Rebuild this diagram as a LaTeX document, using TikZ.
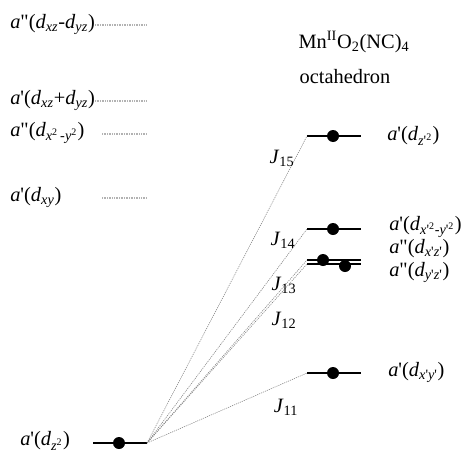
\documentclass[tikz,border=0pt]{standalone}
\usepackage{fontspec}
\setmainfont{Liberation Serif}
\usetikzlibrary{positioning}
\newcommand{\orb}[2]{\textit{a}#1(#2)}
\newcommand{\dd}[1]{\textit{d}\textsubscript{#1}}
\newcommand{\sq}{\textsuperscript{2}}
\newcommand{\pa}{\textquotesingle}
\newcommand{\pb}{\textquotedbl}

\begin{document}
\begin{tikzpicture}[x=0.025cm, y=-0.025cm,
    lbl/.style={font=\fontsize{14.5}{16}\selectfont, inner sep=0pt, anchor=west},
    jlbl/.style={font=\fontsize{14.5}{16}\selectfont, inner sep=0pt},
    lvl/.style={line width=1.4pt},
    elec/.style={circle, fill=black, inner sep=0pt, minimum size=12*0.025cm},
    free/.style={gray!60, line width=1.6pt, dash pattern=on 0.7pt off 0.5pt},
    ex/.style={gray, line width=0.4pt, dash pattern=on 0.8pt off 0.7pt}
]
\useasboundingbox (0,0) rectangle (464,453);

% free ion levels
\node[lbl] (f4) at (10,24) {\orb{\pb}{\dd{\textit{xz}}-\dd{\textit{yz}}}};
\node[lbl] (f3) at (10,100) {\orb{\pa}{\dd{\textit{xz}}+\dd{\textit{yz}}}};
\node[lbl] (f2) at (10,133) {\orb{\pb}{\dd{\textit{x}\sq\,-\textit{y}\sq}}};
\node[lbl] (f1) at (10,197) {\orb{\pa}{\dd{\textit{xy}}}};
\draw[free] (95,25) coordinate (f4a) -- (147,25) coordinate (f4b);
\draw[free] (95,101) coordinate (f3a) -- (147,101) coordinate (f3b);
\draw[free] (102,134) coordinate (f2a) -- (147,134) coordinate (f2b);
\draw[free] (102,198) coordinate (f1a) -- (147,198) coordinate (f1b);

% title
\node[jlbl] (ttl) at (354,42) {Mn\textsuperscript{II}O\textsubscript{2}(NC)\textsubscript{4}};
\node[jlbl, below=16*0.025cm of ttl, xshift=-9*0.025cm] (oct) {octahedron};

% ground level
\node[lbl] (g) at (20,441) {\orb{\pa}{\dd{\textit{z}\sq}}};
\draw[lvl] (93,443) coordinate (ga) -- (147,443) coordinate (gb);
\node[elec] (ge) at (119,443) {};

% octahedron levels
\draw[lvl] (307,136) coordinate (e5a) -- (361,136) coordinate (e5b);
\draw[lvl] (307,229) coordinate (e4a) -- (361,229) coordinate (e4b);
\draw[lvl] (307,260) coordinate (e3a) -- (361,260) coordinate (e3b);
\draw[lvl] (307,264) coordinate (e2a) -- (361,264) coordinate (e2b);
\draw[lvl] (307,373) coordinate (e1a) -- (361,373) coordinate (e1b);
\node[elec] (d5) at (333,136) {};
\node[elec] (d4) at (333,229) {};
\node[elec] (d3) at (323,260) {};
\node[elec] (d2) at (345,266) {};
\node[elec] (d1) at (333,373) {};
\node[lbl] (o5) at (387,136) {\orb{\pa}{\dd{\textit{z}\pa\sq}}};
\node[lbl] (o4) at (389,227) {\orb{\pa}{\dd{\textit{x}\pa\sq-\textit{y}\pa\sq}}};
\node[lbl] (o3) at (389,249) {\orb{\pb}{\dd{\textit{x}\pa\textit{z}\pa}}};
\node[lbl] (o2) at (389,272) {\orb{\pb}{\dd{\textit{y}\pa\textit{z}\pa}}};
\node[lbl] (o1) at (388,372) {\orb{\pa}{\dd{\textit{x}\pa\textit{y}\pa}}};

% exchange paths
\draw[ex] (gb) -- (e5a);
\draw[ex] (gb) -- (e4a);
\draw[ex] (gb) -- (e3a);
\draw[ex] (gb) -- (e2a);
\draw[ex] (gb) -- (e1a);
\node[jlbl] (j15) at (282,158) {\textit{J}\textsubscript{15}};
\node[jlbl] (j14) at (283,240) {\textit{J}\textsubscript{14}};
\node[jlbl] (j13) at (284,285) {\textit{J}\textsubscript{13}};
\node[jlbl] (j12) at (284,320) {\textit{J}\textsubscript{12}};
\node[jlbl] (j11) at (286,407) {\textit{J}\textsubscript{11}};
\end{tikzpicture}
\end{document}
